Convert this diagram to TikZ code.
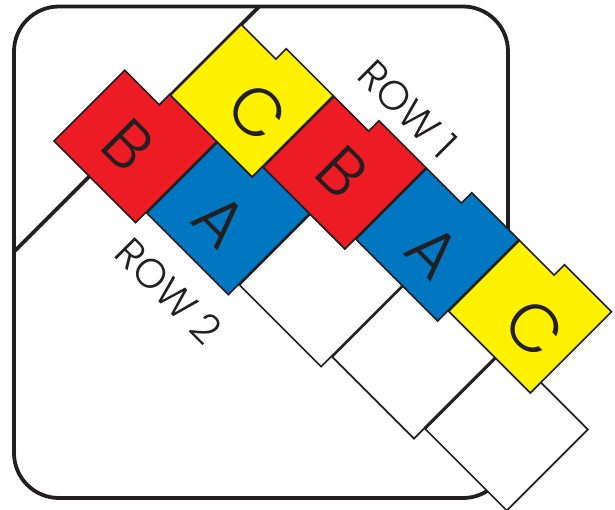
\documentclass[tikz,border=0pt]{standalone}
\usepackage{fontspec}
\IfFontExistsTF{Poppins Light}{\newfontfamily\tilefont{Poppins Light}}{\newfontfamily\tilefont{Poppins}}
\definecolor{ink}{HTML}{231F20}
\definecolor{tred}{HTML}{ED1C24}
\definecolor{tyel}{HTML}{FFF200}
\definecolor{tblue}{HTML}{0077C0}
\newcommand\drawtile[3]{%
  \filldraw[tilebox, fill=#1] (#2,#3) -- ++(115.5,0) -- ++(0,114.7)
    -- ++(-66.5,0) -- ++(0,-14.7) -- ++(-49,0) -- cycle;}
\tikzset{
  tilebox/.style={draw=ink, line width=1.6pt, line join=miter},
  frameline/.style={draw=ink, line width=3.8pt},
  letter/.style={text=ink, rotate=-45, inner sep=0pt, font=\tilefont\fontsize{67}{68}\selectfont},
  rowlabel/.style={text=ink, rotate=-45, inner sep=0pt, font=\tilefont\fontsize{41}{42}\selectfont}
}
\begin{document}
\begin{tikzpicture}[x=1pt,y=-1pt]
\useasboundingbox (0,0) rectangle (615,510);
\draw[frameline, rounded corners=45pt] (14,6.5) rectangle (508,498);
\begin{scope}[shift={(54,141)}, x={(0.70711pt,-0.70711pt)}, y={(0.70711pt,0.70711pt)}]
  % dividing line
  \coordinate (dl1) at (50,-106.6);
  \coordinate (dl2) at (50,240.2);
  \draw[frameline] (dl1) -- (dl2);
  % row 2
  \drawtile{tred}{0}{0}
  \drawtile{tblue}{116.5}{14.7}
  \drawtile{white}{233}{29.4}
  \drawtile{white}{349.5}{44.1}
  \drawtile{white}{466}{58.8}
  % row 1
  \drawtile{tyel}{50}{114.7}
  \drawtile{tred}{166.5}{129.4}
  \drawtile{tblue}{283}{144.1}
  \drawtile{tyel}{399.5}{158.8}
  % thick shared edge
  \coordinate (te1) at (465.5,58.8);
  \coordinate (te2) at (465.5,158.8);
  \draw[ink, line width=3pt] (te1) -- (te2);
  % letters
  \node[letter] (r2b) at (55,49.3) {B};
  \node[letter] (r2a) at (174,61.5) {A};
  \node[letter] (r1c) at (123,164.2) {C};
  \node[letter] (r1b) at (226,182) {B};
  \node[letter] (r1a) at (346,190) {A};
  \node[letter] (r1c2) at (472.5,207.4) {C};
\end{scope}
\node[rowlabel] (row1) at (408,109) {ROW 1};
\node[rowlabel] (row2) at (169,291) {ROW 2};
\end{tikzpicture}
\end{document}
